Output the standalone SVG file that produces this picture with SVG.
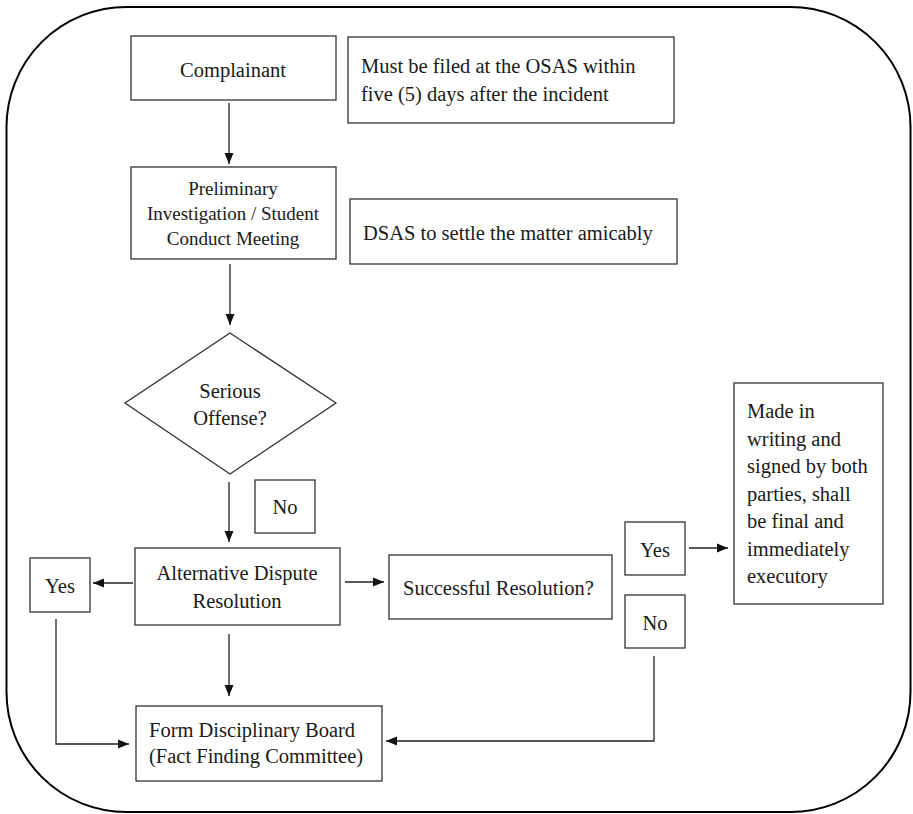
<svg xmlns="http://www.w3.org/2000/svg" width="913" height="814" viewBox="0 0 913 814">
<style>
.box{fill:#fff;stroke:#333;stroke-width:1.3}
text{font-family:'Liberation Serif','Times New Roman','DejaVu Serif',serif;font-size:20.5px;fill:#1a1a1a}
.s{font-size:19px}
.c{text-anchor:middle}
.ln{fill:none;stroke:#222;stroke-width:1.3}
</style>
<defs>
<marker id="ah" markerUnits="userSpaceOnUse" markerWidth="12" markerHeight="10" refX="11" refY="5" orient="auto">
<path d="M0,0.5 L11,5 L0,9.5 Z" fill="#111"/>
</marker>
</defs>
<rect x="6.5" y="7" width="904" height="805" rx="120" ry="120" fill="#fff" stroke="#000" stroke-width="2"/>
<g id="complainant"><rect class="box" x="131" y="36" width="205" height="64"/><text class="c" x="233" y="77">Complainant</text></g>
<g id="note-filed"><rect class="box" x="348" y="37" width="326" height="86"/><text x="361" y="73">Must be filed at the OSAS within</text><text x="361" y="101">five (5) days after the incident</text></g>
<g id="prelim"><rect class="box" x="131" y="167" width="205" height="92"/><text class="s c" x="233" y="195">Preliminary</text><text class="s c" x="233" y="220">Investigation / Student</text><text class="s c" x="233" y="245">Conduct Meeting</text></g>
<g id="note-dsas"><rect class="box" x="350" y="199" width="327" height="65"/><text x="363" y="240">DSAS to settle the matter amicably</text></g>
<g id="serious"><polygon class="box" points="230,333 336,403 230,474 125,403"/><text class="c" x="230" y="398">Serious</text><text class="c" x="230" y="425">Offense?</text></g>
<g id="label-no1"><rect class="box" x="255" y="480" width="60" height="53"/><text class="c" x="285" y="514">No</text></g>
<g id="adr"><rect class="box" x="135" y="548" width="205" height="77"/><text class="c" x="237" y="580">Alternative Dispute</text><text class="c" x="237" y="608">Resolution</text></g>
<g id="label-yes1"><rect class="box" x="30" y="558" width="60" height="54"/><text class="c" x="60" y="593">Yes</text></g>
<g id="successful"><rect class="box" x="389" y="555" width="223" height="64"/><text x="403" y="595">Successful Resolution?</text></g>
<g id="label-yes2"><rect class="box" x="625" y="522" width="60" height="53"/><text class="c" x="655" y="557">Yes</text></g>
<g id="label-no2"><rect class="box" x="625" y="595" width="60" height="53"/><text class="c" x="655" y="630">No</text></g>
<g id="final"><rect class="box" x="734" y="383" width="149" height="221"/>
<text x="747" y="418">Made in</text><text x="747" y="446">writing and</text><text x="747" y="473">signed by both</text><text x="747" y="501">parties, shall</text><text x="747" y="528">be final and</text><text x="747" y="556">immediately</text><text x="747" y="583">executory</text></g>
<g id="board"><rect class="box" x="136" y="706" width="246" height="75"/><text x="149" y="737">Form Disciplinary Board</text><text x="149" y="763">(Fact Finding Committee)</text></g>
<g id="connectors">
<line class="ln" x1="229" y1="103" x2="229" y2="164" marker-end="url(#ah)"/>
<line class="ln" x1="230" y1="264" x2="230" y2="325" marker-end="url(#ah)"/>
<line class="ln" x1="229" y1="482" x2="229" y2="542" marker-end="url(#ah)"/>
<line class="ln" x1="133" y1="583" x2="93" y2="583" marker-end="url(#ah)"/>
<line class="ln" x1="345" y1="582" x2="384" y2="582" marker-end="url(#ah)"/>
<line class="ln" x1="229" y1="634" x2="229" y2="696" marker-end="url(#ah)"/>
<polyline class="ln" points="56,619 56,744 129,744" marker-end="url(#ah)"/>
<polyline class="ln" points="654,656 654,741 386,741" marker-end="url(#ah)"/>
<line class="ln" x1="689" y1="548" x2="728" y2="548" marker-end="url(#ah)"/>
</g>
</svg>
